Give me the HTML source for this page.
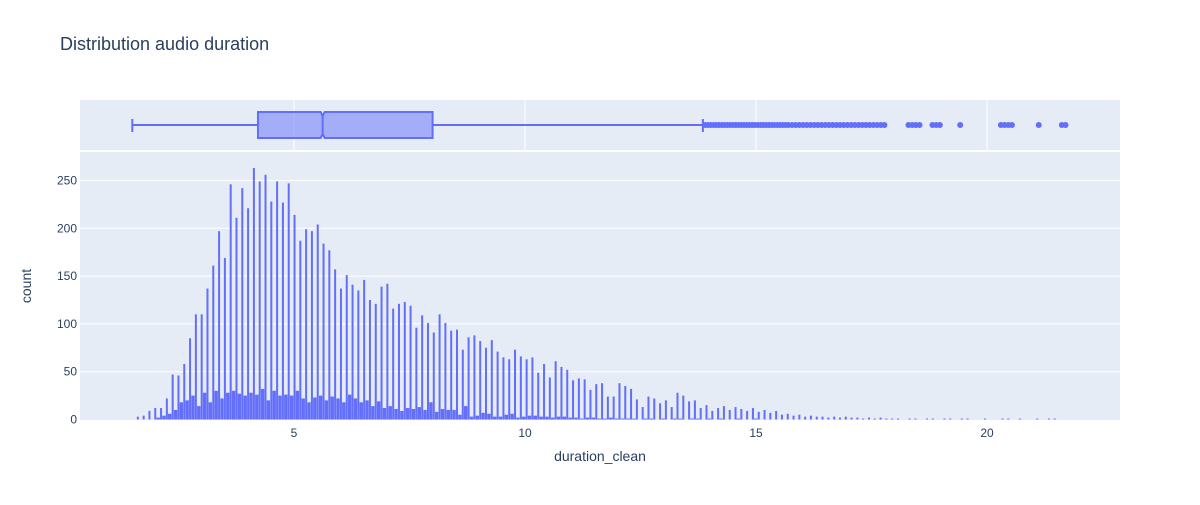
<!DOCTYPE html>
<html><head><meta charset="utf-8"><style>
body{margin:0;background:#fff;font-family:"Liberation Sans",sans-serif;}
svg text{font-family:"Liberation Sans",sans-serif;fill:#2a3f5f;}
</style></head><body>
<svg id="chart" width="1200" height="500" xmlns="http://www.w3.org/2000/svg">
<text x="60" y="50" font-size="18">Distribution audio duration</text>
<rect x="80" y="100" width="1040" height="50" fill="#e5ecf6"/>
<rect x="80" y="152" width="1040" height="268" fill="#e5ecf6"/>
<g id="grid"></g>
<g id="bars"></g>
<g id="box"></g>
<g id="ticks"></g>
<text x="600" y="461" font-size="14" text-anchor="middle">duration_clean</text>
<text x="0" y="0" font-size="14" text-anchor="middle" transform="translate(31,286) rotate(-90)">count</text>
</svg>
<script>
const binStart = 1.62;
const binStep = 0.1256;
const tallCounts = [3,4,9,12,12,22,47,46,58,85,110,110,137,161,197,169,246,211,242,221,263,249,256,228,249,227,247,214,187,199,197,204,184,177,157,137,151,141,135,146,
125,121,139,142,116,121,123,119,96,109,101,91,110,101,93,94,73,86,88,82,75,83,71,65,63,73,66,63,65,49,58,44,61,55,52,41,43,42,31,37,38,24,24,38,35,32,21,13,24,22,17,20,13,28,25,19,
20,12,15,9,12,14,10,13,11,9,12,8,10,7,9,5,6,4,5,3,4,3,3,2,3,2,3,2,2,1,2,1,2,1,1,1,0,1,1,0,1,1,0,1,1,0,1,1,0,0,1,0,0,1,1,0,1,0,0,1,0,1,1,0];
const shortCounts = [0,0,0,2,4,6,10,18,20,25,14,28,18,30,22,28,30,27,25,28,26,32,20,30,25,26,25,30,22,18,23,25,20,24,22,18,26,22,18,20,
14,19,12,14,11,9,12,11,13,10,18,8,11,10,10,5,14,3,4,7,6,3,3,5,6,2,3,4,4,3,3,2,3,3,2,2,1,2,2,1,1,2,1,1,1,1,0,1,1,0,1,0,1,1,0,1,
1,0,1,0,1,0,0,1,0,0,1,0,0,0,0,0,0,0,0,0,0,0,0,0,0,0,0,0,0,0,0,0,0,0,0,0,0,0,0,0,0,0,0,0,0,0,0,0,0,0,0,0,0,0,0,0,0,0,0,0,0,0,0,0];
const xTicks = [5,10,15,20];
const yTicks = [0,50,100,150,200,250];
const boxStats = {min:1.5, q1:4.22, median:5.62, q3:8.0, max:13.85};
const outliers = [13.9,13.96,14.02,14.08,14.14,14.2,14.26,14.32,14.38,14.44,14.5,14.56,14.62,14.68,14.74,14.8,14.86,14.92,14.98,15.04,15.1,15.16,15.22,15.28,15.34,15.4,15.46,15.52,15.58,15.64,15.7,15.78,15.86,15.94,16.02,16.1,16.18,16.26,16.34,16.42,16.5,16.58,16.66,16.74,16.82,16.9,16.98,17.06,17.14,17.22,17.3,17.38,17.46,17.54,17.62,17.7,17.78,18.3,18.38,18.46,18.54,18.82,18.9,18.98,19.42,20.3,20.38,20.46,20.54,21.12,21.62,21.7];

const NS="http://www.w3.org/2000/svg";
const xs = v => 63 + 46.2*v;
const ys = c => 419.5 - 0.956*c;
function mk(tag, attrs, parent){const e=document.createElementNS(NS,tag);for(const k in attrs)e.setAttribute(k,attrs[k]);document.getElementById(parent).appendChild(e);return e;}

yTicks.forEach(t=>{
  if(t>0){const g=mk('line',{x1:80,x2:1120,y1:ys(t),y2:ys(t),stroke:'#fff','stroke-width':1},'grid');
  
  }
  const l=mk('text',{x:77,y:ys(t)+4,'font-size':12,'text-anchor':'end'},'ticks');l.textContent=t;
  
  
});
xTicks.forEach(t=>{
  const g=mk('line',{x1:xs(t),x2:xs(t),y1:100,y2:150,stroke:'#fff','stroke-width':1},'grid');
  
  
  const l=mk('text',{x:xs(t),y:437,'font-size':12,'text-anchor':'middle'},'ticks');l.textContent=t;
  
  
});
tallCounts.forEach((c,i)=>{
  const x=binStart+i*binStep;
  if(c>0){const r=mk('rect',{x:xs(x)-1,y:ys(c),width:2,height:419.5-ys(c),fill:'#636efa'},'bars');
  
  }
  const s=shortCounts[i];
  if(s>0){const r2=mk('rect',{x:xs(x)+1.2,y:ys(s),width:3.4,height:419.5-ys(s),fill:'#636efa'},'bars');
  
  }
});
// box
const c='#636efa';
let e;
e=mk('line',{x1:xs(boxStats.min),x2:xs(boxStats.q1),y1:125,y2:125,stroke:c,'stroke-width':2},'box');


e=mk('line',{x1:xs(boxStats.q3),x2:xs(boxStats.max),y1:125,y2:125,stroke:c,'stroke-width':2},'box');


e=mk('line',{x1:xs(boxStats.min),x2:xs(boxStats.min),y1:119,y2:132,stroke:c,'stroke-width':2},'box');


e=mk('line',{x1:xs(boxStats.max),x2:xs(boxStats.max),y1:119,y2:132,stroke:c,'stroke-width':2},'box');


const q1=xs(boxStats.q1),q3=xs(boxStats.q3),m=xs(boxStats.median);
e=mk('path',{d:`M${q1},112 L${m-2},112 L${m},116 L${m+2},112 L${q3},112 L${q3},138 L${m+2},138 L${m},134 L${m-2},138 L${q1},138 Z`,fill:'rgba(99,110,250,0.5)',stroke:c,'stroke-width':2},'box');


e=mk('line',{x1:m,x2:m,y1:116,y2:134,stroke:c,'stroke-width':2},'box');


outliers.forEach(v=>{
  const p=mk('circle',{cx:xs(v),cy:125,r:3,fill:c},'box');
  
  
});
</script>
</body></html>
